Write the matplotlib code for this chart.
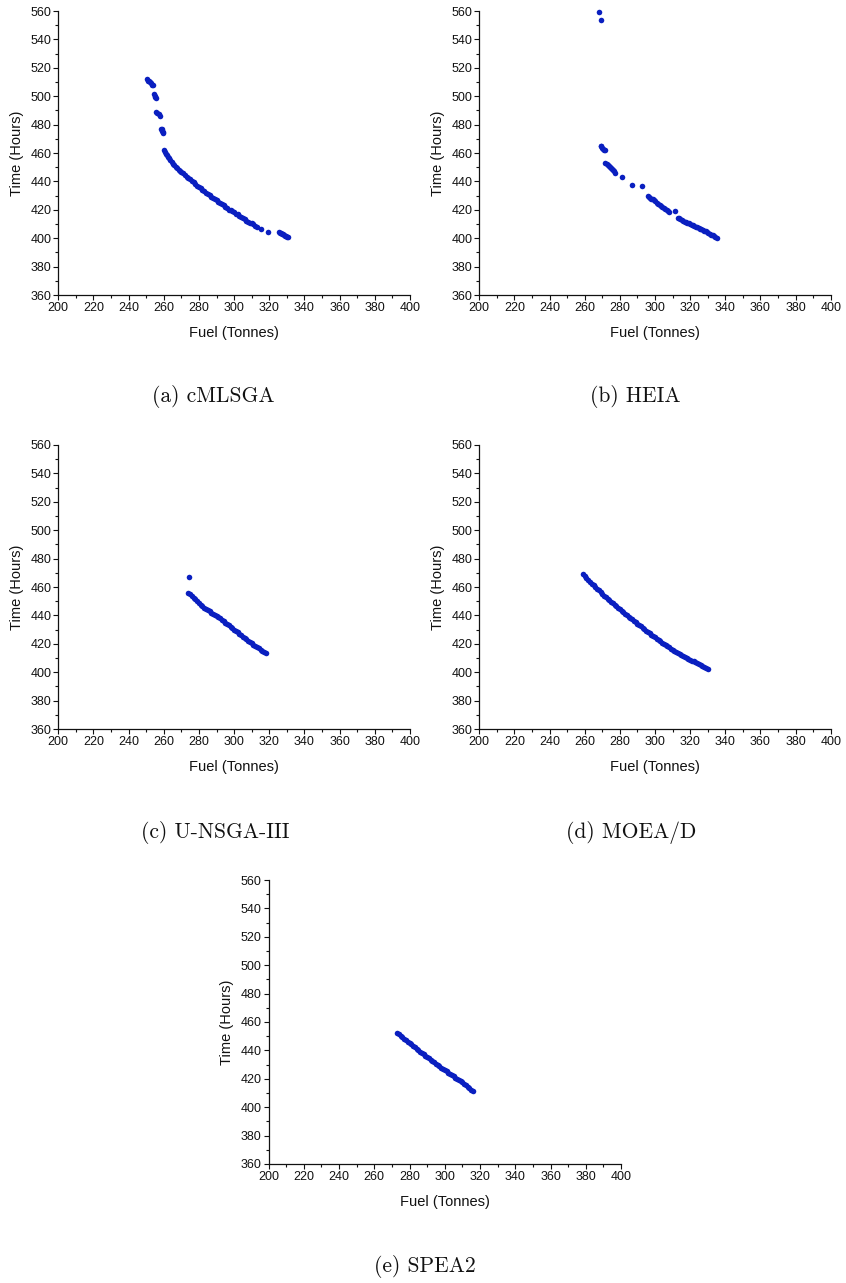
import matplotlib
matplotlib.use("Agg")
import matplotlib.pyplot as plt
from matplotlib.ticker import MultipleLocator

# ---------------- data ----------------
a_fuel = [250.5, 251.0, 251.5, 252.0, 252.6, 253.2, 253.6, 254.5, 254.8, 255.1, 255.4,
          255.7, 256.3, 257.0, 257.6, 258.3, 258.8, 259.2, 259.5, 259.7,
          260.0, 260.4, 261.0, 261.6, 262.2, 263.0, 263.7, 264.4, 265.2, 266.0, 266.8,
          267.6, 268.4, 269.2, 270.0, 271.0, 272.0, 273.0, 274.0, 275.0, 276.0, 277.0,
          278.0, 279.0, 280.0, 281.0, 282.0, 283.0, 284.0, 285.0, 286.0, 287.0, 288.0,
          289.0, 290.0, 291.0, 292.0, 293.0, 294.0, 295.0, 296.0, 297.0, 298.0, 299.0,
          300.0, 301.0, 302.0, 303.0, 304.0, 305.0, 306.0, 307.0, 308.0, 309.0, 310.0,
          311.0, 312.0, 313.0, 315.0, 319.5, 325.3, 325.9, 326.5, 327.1, 327.7, 328.3,
          328.9, 329.5, 330.1, 330.6]
a_time = [511.8, 511.0, 510.5, 509.8, 509.0, 508.2, 507.6, 501.2, 500.3, 499.4, 498.8,
          488.6, 488.0, 487.2, 486.4, 477.2, 476.6, 475.8, 474.6, 474.0,
          461.8, 460.8, 459.5, 458.4, 457.3, 456.4, 455.0, 453.8, 452.6, 451.4, 450.3,
          449.2, 448.1, 447.3, 446.5, 445.6, 444.3, 443.2, 442.4, 441.6, 440.4, 439.3,
          438.3, 437.1, 436.0, 435.1, 434.0, 432.9, 431.9, 431.2, 430.4, 429.2, 428.0,
          427.6, 426.7, 425.6, 425.0, 424.3, 423.1, 421.9, 421.0, 420.2, 419.7, 419.0,
          418.2, 417.3, 416.7, 415.6, 414.8, 413.9, 413.3, 412.4, 411.6, 411.0, 410.4,
          409.7, 408.9, 408.1, 406.8, 404.2, 404.3, 403.9, 403.5, 403.1, 402.7, 402.3,
          401.9, 401.5, 401.1, 400.8]

b_fuel = [268.3, 269.0,
          269.0, 269.5, 270.0, 270.5, 271.0, 271.5,
          271.8, 272.4, 273.0, 273.6, 274.2, 274.8, 275.4, 276.0, 276.6, 277.4,
          281.4, 286.7, 292.4,
          295.8, 296.4, 297.0, 297.8, 298.6, 299.4, 300.2, 301.0, 301.8, 302.6, 303.4,
          304.2, 305.0, 305.8, 306.6, 307.4, 308.0,
          311.4,
          312.9, 313.6, 314.4, 315.2, 316.0, 316.8, 317.6, 318.4, 319.2, 320.0, 320.8,
          321.6, 322.4, 323.2, 324.0, 324.8, 325.6, 326.4, 327.2, 328.0, 328.8, 329.6,
          330.4, 331.2, 332.0, 332.8, 333.6, 334.4, 335.1]
b_time = [559.6, 553.7,
          465.2, 464.6, 463.8, 463.0, 462.4, 461.8,
          453.2, 452.6, 451.8, 451.0, 450.2, 449.4, 448.6, 447.8, 447.0, 446.2,
          443.4, 437.5, 437.0,
          430.0, 429.0, 428.4, 427.9, 427.4, 426.8, 425.9, 425.0, 424.3, 423.6, 423.0,
          422.2, 421.4, 420.8, 420.1, 419.4, 418.8,
          419.0,
          414.4, 414.0, 413.5, 413.0, 412.2, 411.7, 411.3, 410.9, 410.4, 410.0, 409.5,
          409.0, 408.5, 408.0, 407.6, 407.2, 406.8, 406.3, 405.8, 405.4, 404.8, 404.2,
          403.6, 403.0, 402.5, 402.0, 401.6, 401.0, 400.2]

c_fuel = [274.3, 274.0, 275.0, 276.0, 277.0, 278.0, 279.0, 280.0, 281.0, 282.0, 283.0,
          284.0, 285.0, 286.0, 287.0, 288.0, 289.0, 290.0, 291.0, 292.0, 293.0, 294.0,
          295.0, 296.0, 297.0, 298.0, 299.0, 300.0, 301.0, 302.0, 303.0, 304.0, 305.0,
          306.0, 307.0, 308.0, 309.0, 310.0, 311.0, 312.0, 313.0, 314.0, 315.0, 316.0,
          317.0, 318.0]
c_time = [466.8, 456.0, 455.3, 454.0, 452.5, 451.2, 450.0, 448.8, 447.6, 446.5, 445.5,
          444.6, 443.7, 442.9, 442.0, 441.2, 440.4, 439.6, 438.8, 437.9, 437.0, 436.0,
          435.0, 434.0, 433.0, 432.0, 431.0, 430.0, 429.0, 428.0, 427.0, 426.0, 425.1,
          424.2, 423.2, 422.2, 421.2, 420.3, 419.4, 418.5, 417.6, 416.7, 415.8, 414.9,
          414.0, 413.3]

d_fuel = [259, 260, 261, 262, 263, 264, 265, 266, 267, 268, 269, 270, 271, 272, 273,
          274, 275, 276, 277, 278, 279, 280, 281, 282, 283, 284, 285, 286, 287, 288,
          289, 290, 291, 292, 293, 294, 295, 296, 297, 298, 299, 300, 301, 302, 303,
          304, 305, 306, 307, 308, 309, 310, 311, 312, 313, 314, 315, 316, 317, 318,
          319, 320, 321, 322, 323, 324, 325, 326, 327, 328, 329, 330]
d_time = [469.0, 467.6, 466.3, 465.0, 463.7, 462.4, 461.2, 460.0, 458.8, 457.6, 456.4,
          455.2, 454.0, 452.9, 451.8, 450.7, 449.6, 448.5, 447.4, 446.3, 445.2, 444.2,
          443.2, 442.2, 441.2, 440.2, 439.2, 438.2, 437.2, 436.2, 435.2, 434.2, 433.2,
          432.2, 431.2, 430.2, 429.3, 428.4, 427.4, 426.4, 425.5, 424.5, 423.5, 422.6,
          421.7, 420.8, 419.9, 419.0, 418.2, 417.4, 416.6, 415.8, 415.0, 414.2, 413.5,
          412.8, 412.1, 411.4, 410.7, 410.1, 409.5, 408.8, 408.2, 407.6, 407.0, 406.4,
          405.8, 405.2, 404.6, 403.9, 403.2, 402.4]

e_fuel = [273, 274, 275, 276, 277, 278, 279, 280, 281, 282, 283, 284, 285, 286, 287,
          288, 289, 290, 291, 292, 293, 294, 295, 296, 297, 298, 299, 300, 301, 302,
          303, 304, 305, 306, 307, 308, 309, 310, 311, 312, 313, 314, 315, 316]
e_time = [452.0, 451.2, 450.2, 449.2, 448.2, 447.2, 446.2, 445.2, 444.2, 443.2, 442.2,
          441.2, 440.2, 439.2, 438.2, 437.3, 436.3, 435.4, 434.4, 433.5, 432.5, 431.6,
          430.6, 429.7, 428.8, 427.9, 427.0, 426.1, 425.2, 424.3, 423.4, 422.5, 421.7,
          420.8, 420.0, 419.1, 418.3, 417.5, 416.6, 415.5, 414.4, 413.3, 412.2, 411.1]

captions = ["(a) cMLSGA", "(b) HEIA", "(c) U-NSGA-III", "(d) MOEA/D", "(e) SPEA2"]
x_label = "Fuel (Tonnes)"
y_label = "Time (Hours)"
x_ticks = [200, 220, 240, 260, 280, 300, 320, 340, 360, 380, 400]
y_ticks = [360, 380, 400, 420, 440, 460, 480, 500, 520, 540, 560]

series = [(a_fuel, a_time), (b_fuel, b_time), (c_fuel, c_time),
          (d_fuel, d_time), (e_fuel, e_time)]

# ---------------- layout ----------------
W, H = 846, 1283
fig = plt.figure(figsize=(W / 100, H / 100), dpi=100)

# axes boxes in pixels: (left, top, right, bottom)
boxes = [(58.3, 11, 410, 295), (479.3, 11, 830.7, 295),
         (58.3, 445, 410, 729), (479.3, 445, 830.7, 729),
         (268.5, 880, 621, 1164)]
cap_pos = [(213, 397), (635, 397), (215, 832), (631, 832), (425, 1266)]

color = "#0a1fc0"
for (x, y), (l, t, r, b), cap, (cx, cy) in zip(series, boxes, captions, cap_pos):
    ax = fig.add_axes([l / W, 1 - b / H, (r - l) / W, (b - t) / H])
    ax.scatter(x, y, s=16, color=color, linewidths=0, zorder=3, clip_on=False)
    ax.set_xlim(200, 400)
    ax.set_ylim(360, 560)
    ax.set_xticks(x_ticks)
    ax.set_yticks(y_ticks)
    ax.xaxis.set_minor_locator(MultipleLocator(10))
    ax.yaxis.set_minor_locator(MultipleLocator(10))
    for s in ["top", "right"]:
        ax.spines[s].set_visible(False)
    for s in ["left", "bottom"]:
        ax.spines[s].set_linewidth(0.9)
        ax.spines[s].set_color("#111111")
    ax.tick_params(which="major", direction="out", length=3.6, width=0.8,
                   labelsize=9, colors="#111111", pad=1.5)
    ax.tick_params(which="minor", direction="out", length=2.0, width=0.8,
                   colors="#111111")
    for lab in ax.get_xticklabels() + ax.get_yticklabels():
        lab.set_fontfamily("Liberation Sans")
    ax.set_xlabel(x_label, fontsize=10.5, family="Liberation Sans", color="#111111")
    ax.set_ylabel(y_label, fontsize=10.5, family="Liberation Sans", color="#111111")
    ax.xaxis.set_label_coords(0.5, -0.108)
    ax.yaxis.set_label_coords(-0.097, 0.5)
    fig.text(cx / W, 1 - cy / H, cap, ha="center", va="center",
             fontsize=15.5, family="cmr10", color="#111111")

fig.savefig("out.png", dpi=100)
